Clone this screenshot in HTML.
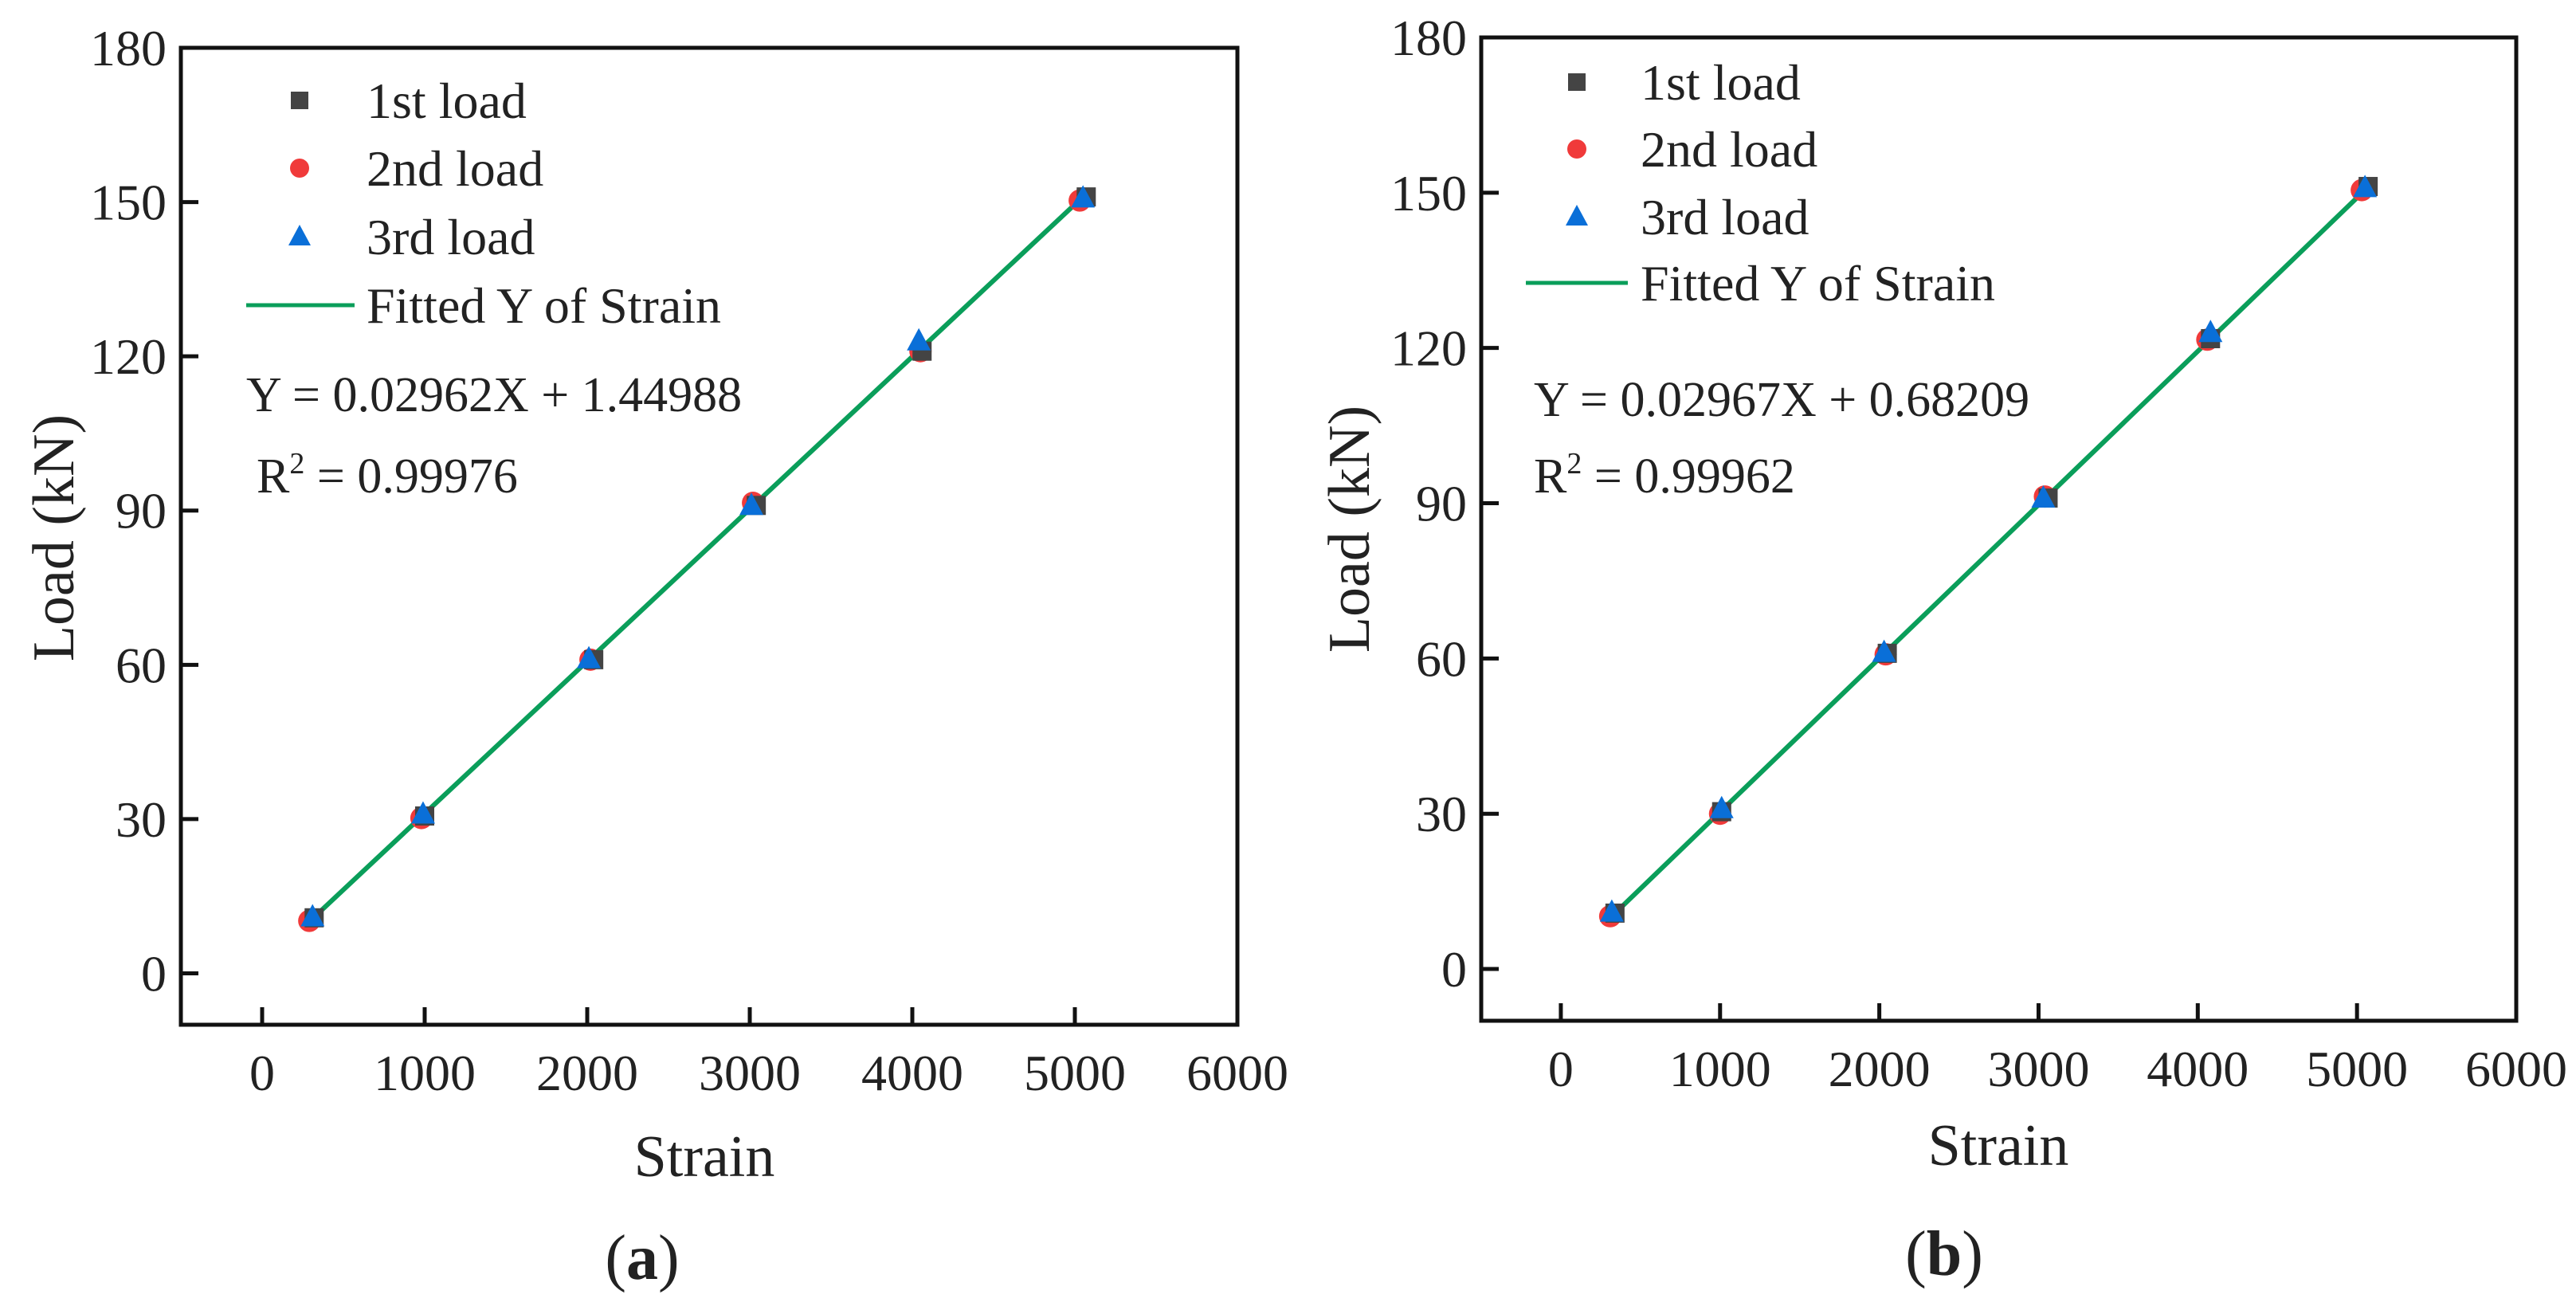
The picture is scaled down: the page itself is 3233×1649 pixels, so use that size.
<!DOCTYPE html>
<html><head><meta charset="utf-8"><style>
body{margin:0;background:#fff;width:3233px;height:1644px;overflow:hidden}
svg text{font-family:"Liberation Serif",serif;fill:#222}
</style></head><body>
<svg id="chart" width="3233" height="1644" xmlns="http://www.w3.org/2000/svg"></svg>
<script>
const xTicks=[0,1000,2000,3000,4000,5000,6000];
const yTicks=[0,30,60,90,120,150,180];
const strainA1=[320,1000,2040,3040,4060,5070];
const loadA1=[10.8,30.6,61,91,121,151];
const strainA2=[290,980,2020,3020,4050,5030];
const loadA2=[10.2,30.2,61,91.5,121,150.3];
const strainA3=[310,990,2010,3010,4040,5050];
const loadA3=[11,31,61.2,91,123,150.8];
const fitA=[0.02962,1.44988];
const strainB1=[340,1010,2050,3060,4080,5070];
const loadB1=[10.8,30.4,61,91,121.8,151.2];
const strainB2=[310,1000,2040,3040,4060,5030];
const loadB2=[10.2,30,60.8,91.3,121.6,150.5];
const strainB3=[320,1010,2030,3030,4080,5050];
const loadB3=[11,31,61.2,91,123,151];
const fitB=[0.02967,0.68209];
const svg=document.getElementById('chart');
const NS='http://www.w3.org/2000/svg';
function mk(tag,at,parent){const e=document.createElementNS(NS,tag);for(const k in at)e.setAttribute(k,at[k]);(parent||svg).appendChild(e);return e;}
function panel(P){
  const g=mk('g',{});
  
  
  const sx=v=>P.L+(v+500)/6500*(P.R-P.L);
  const sy=v=>P.B-(v+10)/190*(P.B-P.T);
  const box=mk('rect',{x:P.L,y:P.T,width:P.R-P.L,height:P.B-P.T,fill:'none',stroke:'#111','stroke-width':5},g);
  
  xTicks.forEach(t=>{
    const l=mk('line',{x1:sx(t),x2:sx(t),y1:P.B,y2:P.B-22,stroke:'#111','stroke-width':5},g);
    
    const tx=mk('text',{x:sx(t),y:P.B+82,'font-size':64,'text-anchor':'middle'},g);tx.textContent=t;
    
  });
  yTicks.forEach(t=>{
    const l=mk('line',{x1:P.L,x2:P.L+22,y1:sy(t),y2:sy(t),stroke:'#111','stroke-width':5},g);
    
    const tx=mk('text',{x:P.L-18,y:sy(t)+22,'font-size':64,'text-anchor':'end'},g);tx.textContent=t;
    
  });
  const xt=mk('text',{x:P.xtx,y:P.xty,'font-size':74,'text-anchor':'middle'},g);xt.textContent='Strain';
  
  const yt=mk('text',{x:0,y:0,'font-size':74,'text-anchor':'middle',transform:`translate(${P.ytx},${P.yty}) rotate(-90)`},g);yt.textContent='Load (kN)';
  
  const cap=mk('text',{x:P.capx,y:P.capy,'font-size':80,'text-anchor':'middle'},g);
  cap.innerHTML='(<tspan font-weight="bold">'+P.cap+'</tspan>)';
  
  const f=P.fit;
  const fl=mk('line',{x1:sx(P.fx[0]),y1:sy(f[0]*P.fx[0]+f[1]),x2:sx(P.fx[1]),y2:sy(f[0]*P.fx[1]+f[1]),stroke:'#0a9e5a','stroke-width':6},g);
  
  P.s2[0].forEach((x,i)=>{const c=mk('circle',{cx:sx(x),cy:sy(P.s2[1][i]),r:14,fill:'#f03a3a'},g);
    });
  P.s1[0].forEach((x,i)=>{const r=mk('rect',{x:sx(x)-12,y:sy(P.s1[1][i])-12,width:24,height:24,fill:'#444'},g);
    });
  P.s3[0].forEach((x,i)=>{const X=sx(x),Y=sy(P.s3[1][i]);const t=mk('polygon',{points:`${X},${Y-16} ${X-15},${Y+12} ${X+15},${Y+12}`,fill:'#0a6fd8'},g);
    });
  const lg=mk('g',{},g);
  const [mx,tx0]=[P.lmx,P.ltx];const ry=P.lrows;
  mk('rect',{x:mx-11,y:ry[0]-11,width:22,height:22,fill:'#444'},lg);
  mk('circle',{cx:mx,cy:ry[1],r:12,fill:'#f03a3a'},lg);
  mk('polygon',{points:`${mx},${ry[2]-15} ${mx-14},${ry[2]+11} ${mx+14},${ry[2]+11}`,fill:'#0a6fd8'},lg);
  mk('line',{x1:P.ll[0],x2:P.ll[1],y1:ry[3],y2:ry[3],stroke:'#0a9e5a','stroke-width':5},lg);
  ['1st load','2nd load','3rd load','Fitted Y of Strain'].forEach((s,i)=>{const t=mk('text',{x:tx0,y:ry[i]+22,'font-size':64},lg);t.textContent=s;
    });
  const eq=mk('text',{x:P.eqx,y:P.eqy,'font-size':62},g);eq.textContent='Y = '+f[0].toFixed(5)+'X + '+f[1].toFixed(5);
  
  const r2=mk('text',{x:P.r2x,y:P.r2y,'font-size':62},g);r2.innerHTML='R<tspan font-size="38" dy="-24">2</tspan><tspan dy="24"> = '+P.r2+'</tspan>';
  
}
panel({name:'panel-a',L:227,R:1553,T:60,B:1286,fit:fitA,fx:[300,5060],s1:[strainA1,loadA1],s2:[strainA2,loadA2],s3:[strainA3,loadA3],
 xtx:884,xty:1476,ytx:92,yty:675,capx:806,capy:1605,cap:'a',lmx:376,ltx:460,lrows:[126,211,297,383],ll:[309,445],eqx:309,eqy:516,r2x:322,r2y:618,r2:'0.99976'});
panel({name:'panel-b',L:1859,R:3158,T:47,B:1281,fit:fitB,fx:[320,5070],s1:[strainB1,loadB1],s2:[strainB2,loadB2],s3:[strainB3,loadB3],
 xtx:2508,xty:1462,ytx:1718,yty:664,capx:2440,capy:1600,cap:'b',lmx:1979,ltx:2059,lrows:[103,187,272,355],ll:[1915,2043],eqx:1925,eqy:522,r2x:1925,r2y:618,r2:'0.99962'});
</script>
</body></html>
